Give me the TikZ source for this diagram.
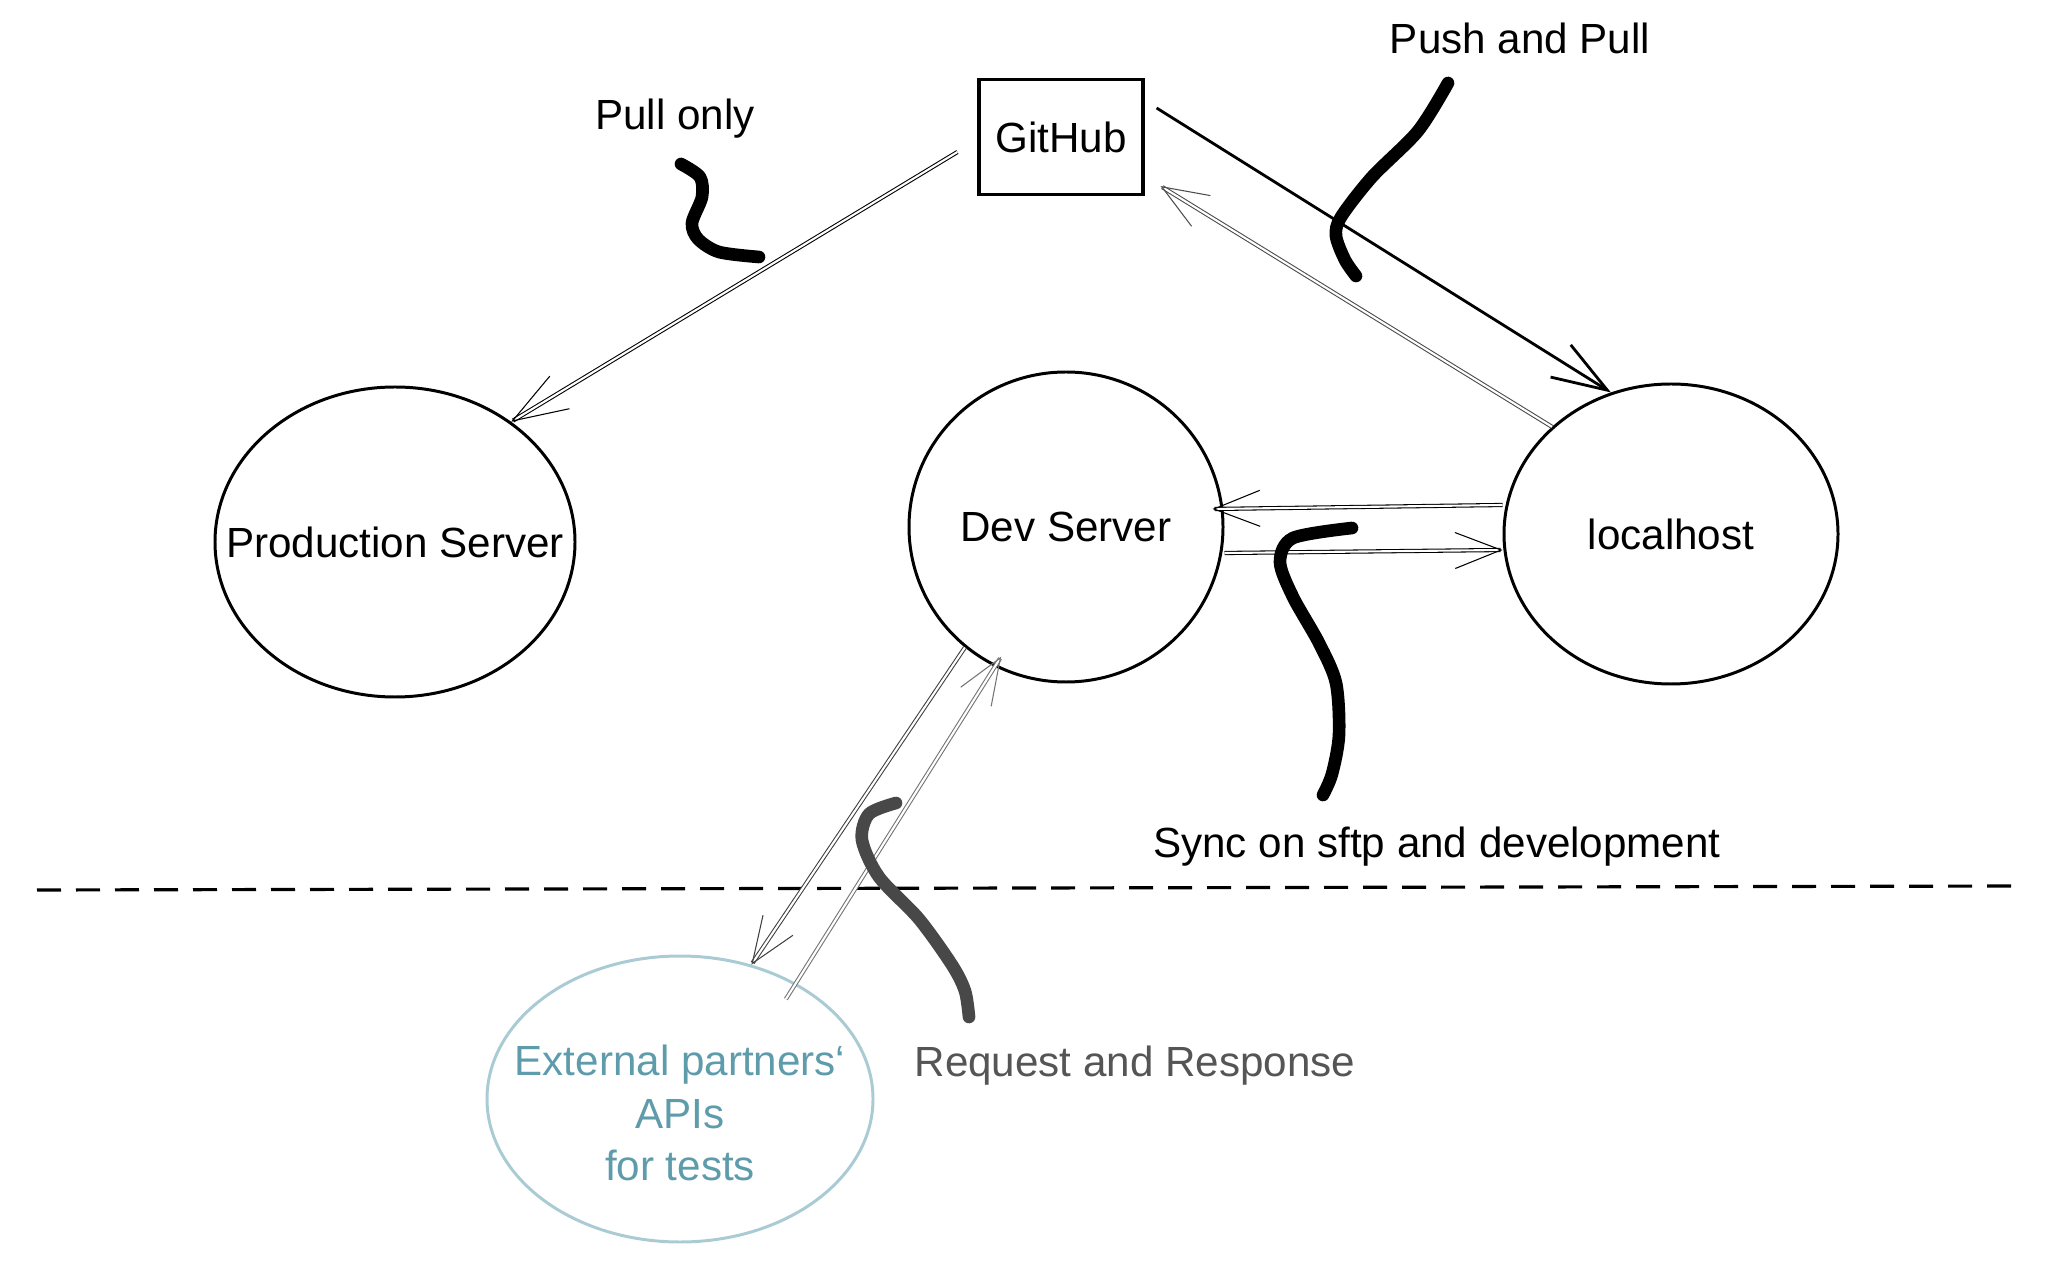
\documentclass[tikz,border=0pt]{standalone}
\usepackage{fontspec}
\setmainfont{Liberation Sans}
\usetikzlibrary{arrows.meta,shapes.geometric}
\definecolor{apiteal}{HTML}{5E9CAB}
\definecolor{apiring}{HTML}{A9CBD4}
\definecolor{reqgray}{HTML}{555555}

\begin{document}
\begin{tikzpicture}[font=\fontsize{12}{15}\selectfont,>={Straight Barb[length=4.6mm,width=3.6mm]},
  srv/.style={ellipse,draw,line width=.85pt,inner sep=0pt},
  arr/.style={->,line width=.5pt},
  dbl/.style={arr,double,double distance=.6pt,line width=.3pt},
  squig/.style={line cap=round,line join=round,line width=3.6pt}]
  \useasboundingbox (0,0) rectangle (20.58,-12.68);
  \draw[line width=.9pt,dash pattern=on 2.4mm off 1.5mm] (0.37,-8.90)--(20.21,-8.86);
  \node[draw,line width=.9pt,minimum width=1.64cm,minimum height=1.15cm] (gh) at (10.61,-1.37) {GitHub};
  \node[srv,minimum width=3.6cm,minimum height=3.1cm,label={[name=prodlbl]center:Production Server}] (prod) at (3.95,-5.42) {};
  \node[srv,minimum width=3.14cm,minimum height=3.1cm,label={[name=devlbl]center:Dev Server}] (dev) at (10.66,-5.27) {};
  \node[srv,minimum width=3.34cm,minimum height=3.0cm,label={[name=lhlbl]center:localhost}] (lh) at (16.71,-5.34) {};
  \node[srv,draw=apiring,minimum width=3.86cm,minimum height=2.86cm,
    label={[name=extlbl,align=center,text=apiteal,yshift=-.14cm]center:External partners`\\APIs\\for tests}] (ext) at (6.80,-10.99) {};
  \node (pull) at (6.75,-1.19) {Pull only};
  \node (push) at (15.20,-.38) {Push and Pull};
  \node (sync) at (14.37,-8.47) {Sync on sftp and development};
  \node[text=reqgray] (req) at (11.35,-10.66) {Request and Response};
  \draw[dbl,>={Straight Barb[length=5.5mm,width=3.8mm]}] ([shift={(-.2,-.15)}]gh.west) -- (prod.46);
  \draw[arr,line width=.8pt,>={Straight Barb[length=5.5mm,width=3.8mm]}] ([shift={(.12,.29)}]gh.east) -- (lh.113);
  \draw[dbl,black!70] (lh.138) -- ([shift={(.16,.1)}]gh.south east);
  \draw[dbl] ([yshift=.29cm]lh.west) -- ([shift={(-.12,.18)}]dev.east);
  \draw[dbl] ([yshift=-.26cm]dev.east) -- ([yshift=-.16cm]lh.west);
  \draw[dbl,black!75] (dev.230) -- (ext.62);
  \draw[dbl,black!55,shorten <=-.19cm,shorten >=-.12cm] (ext.45) -- (dev.243);
  \draw[squig] plot[smooth] coordinates {(6.81,-1.64) (7.00,-1.77) (7.02,-1.97) (6.92,-2.23) (6.98,-2.39) (7.19,-2.52) (7.59,-2.57)};
  \draw[squig] plot[smooth] coordinates {(14.48,-.83) (14.18,-1.31) (13.72,-1.77) (13.41,-2.17) (13.36,-2.36) (13.45,-2.60) (13.56,-2.76)};
  \draw[squig] plot[smooth] coordinates {(13.52,-5.28) (12.93,-5.38) (12.80,-5.62) (12.93,-5.97) (13.19,-6.43) (13.36,-6.83) (13.39,-7.35) (13.32,-7.74) (13.23,-7.95)};
  \draw[squig,reqgray!85!black] plot[smooth] coordinates {(8.96,-8.03) (8.69,-8.14) (8.62,-8.40) (8.79,-8.77) (9.19,-9.19) (9.52,-9.65) (9.65,-9.91) (9.69,-10.17)};
\end{tikzpicture}
\end{document}
